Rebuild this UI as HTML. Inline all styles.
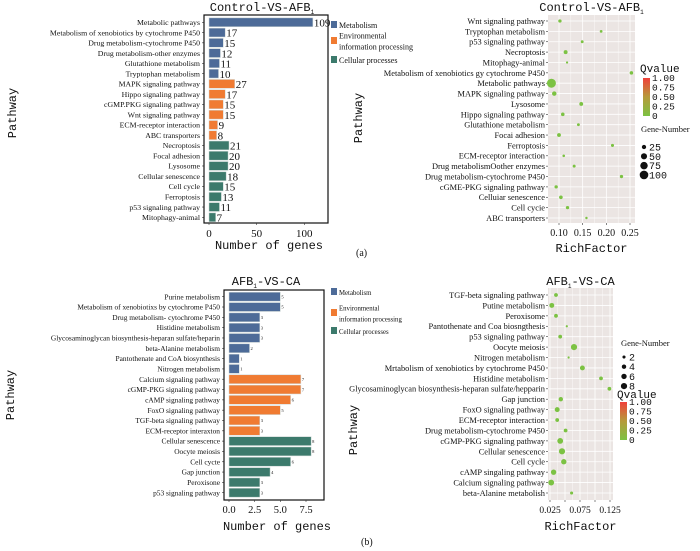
<!DOCTYPE html>
<html><head><meta charset="utf-8"><style>
html,body{margin:0;padding:0;background:#fff;}
svg{display:block;font-family:"Liberation Serif","Noto Serif CJK SC",serif;}
</style></head><body>
<svg id="fig" width="700" height="551" viewBox="0 0 700 551"></svg>
<script>
const NS='http://www.w3.org/2000/svg';
const svg=document.getElementById('fig');
const BLUE='#4d6b98',ORANGE='#f07b32',TEAL='#3c7a6c',GREEN='#7cc243',BG='#ebe5e3';

// Panel A bar data
const aBarCats=['Metabolic pathways','Metabolism of xenobiotics by cytochrome P450','Drug metabolism-cytochrome P450','Drug metabolism-other enzymes','Glutathione metabolism','Tryptophan metabolism','MAPK signaling pathway','Hippo signaling pathway','cGMP.PKG  signaling pathway','Wnt signaling pathway','ECM-receptor interaction','ABC transporters','Necroptosis','Focal adhesion','Lysosome','Cellular senescence','Cell cycle','Ferroptosis','p53 signaling pathway','Mitophagy-animal'];
const aBarVals=[109,17,15,12,11,10,27,17,15,15,9,8,21,20,20,18,15,13,11,7];
const aBarGroups=[0,0,0,0,0,0,1,1,1,1,1,1,2,2,2,2,2,2,2,2];
const aBarTicks=[0,50,100];

// Panel A dot data
const aDotCats=['Wnt signaling pathway','Tryptophan metabolism','p53 signaling pathway','Necroptosis','Mitophagy-animal','Metabolism of xenobiotics gy cytochrome P450','Metabolic pathways','MAPK signaling pathway','Lysosome','Hippo signaling pathway','Glutathione metabolism','Focai adhesion','Ferroptosis','ECM-receptor interaction','Drug metabolismOother enzymes','Drug metabolism-cytochrome P450','cGME-PKG signaling pathway','Celluiar senescence','Cell cycie','ABC transporters'];
const aDotRich=[0.102,0.189,0.149,0.114,0.117,0.253,0.084,0.090,0.147,0.108,0.141,0.100,0.213,0.110,0.132,0.232,0.094,0.104,0.118,0.158];
const aDotGenes=[15,10,11,21,7,17,109,27,20,17,11,20,13,9,12,15,15,18,15,8];
const aDotTicks=[0.10,0.15,0.20,0.25];
const aDotTickLabels=['0.10','0.15','0.20','0.25'];
const aSizeLegend=[25,50,75,100];

// Panel B bar data
const bBarCats=['Purine metabolism','Metabolism of xenobiotixs by cytochrome P450','Drug metabolism- cytochrome P450','Histidine metabolism','Glycosaminoglycan biosynthesis-heparan sulfate/heparin','beta-Alanine metabolism','Pantothenate and CoA biosynthesis','Nitrogen metabolism','Calcium signaling pathway','cGMP-PKG signaling pathway','cAMP signaling pathway','FoxO signaling pathway','TGF-beta signaling pathway','ECM-receptor interaxton','Cellular senescence','Oocyte meiosis','Cell cycte','Gap junction','Peroxisone','p53  signaling pathway'];
const bBarVals=[5,5,3,3,3,2,1,1,7,7,6,5,3,3,8,8,6,4,3,3];
const bBarGroups=[0,0,0,0,0,0,0,0,1,1,1,1,1,1,2,2,2,2,2,2];
const bBarTicks=[0,2.5,5,7.5];
const bBarTickLabels=['0.0','2.5','5.0','7.5'];

// Panel B dot data
const bDotCats=['TGF-beta signaling pathway','Putine metabolism','Peroxisome','Pantothenate and Coa biosngthesis','p53 signaling pathway','Oocyte meiosis','Nitrogen metabolism','Mrtabolism of xenobiotics by cytochrome P450','Histidine metabolism','Glycosaminoglycan biosynthesis-heparan sulfate/hepparin','Gap junction','FoxO signaling pathway','ECM-receptor interaction','Drug metabolism-cytochrome P450','cGMP-PKG signaling pathway','Cellular senescence','Cell cycle','cAMP singaling pathway','Calcium signaling pathway','beta-Alanine metabolish'];
const bDotRich=[0.035,0.028,0.035,0.053,0.042,0.065,0.056,0.079,0.110,0.124,0.043,0.037,0.037,0.051,0.042,0.045,0.048,0.031,0.027,0.061];
const bDotGenes=[3,5,3,1,3,8,1,5,3,3,4,5,3,3,7,8,6,6,7,2];
const bDotTicks=[0.025,0.05,0.075,0.1,0.125];
const bDotTickLabels=['0.025','','0.075','','0.125'];
const bSizeLegend=[2,4,6,8];

const groupColors=[BLUE,ORANGE,TEAL];
const legendLabels=[['Metabolism'],['Environmental','information processing'],['Cellular processes']];

function mk(tag,attrs,parent,text){const e=document.createElementNS(NS,tag);for(const k in attrs)e.setAttribute(k,attrs[k]);if(text!==undefined)e.textContent=text;(parent||svg).appendChild(e);return e;}
function lin(d0,d1,r0,r1){return v=>r0+(v-d0)*(r1-r0)/(d1-d0);}

function barPanel(o){
  const g=mk('g',{});
  
  
  const x=lin(0,o.xref,o.x0,o.x1);
  const n=o.cats.length;
  const y=i=>o.yFirst+i*(o.yLast-o.yFirst)/(n-1);
  const step=(o.yLast-o.yFirst)/(n-1);
  o.cats.forEach((c,i)=>{
    const r=mk('rect',{x:x(0),y:y(i)-step*0.43,width:x(o.vals[i])-x(0),height:step*0.86,fill:groupColors[o.groups[i]],stroke:'#cfd8d6','stroke-width':0.5},g);
    
    
    const t=mk('text',{x:o.bl.l-4,y:y(i)+o.lfs*0.35,'text-anchor':'end','font-size':o.lfs,fill:'#111'},g,c);
    
    
    mk('line',{x1:o.bl.l-2,x2:o.bl.l,y1:y(i),y2:y(i),stroke:'#333','stroke-width':0.6},g);
    const v=mk('text',{x:x(o.vals[i])+1,y:y(i)+o.vfs*0.38,'font-size':o.vfs,fill:'#111'},g,String(o.vals[i]));
    
    
  });
  const f=mk('rect',{x:o.bl.l,y:o.bl.t,width:o.bl.r-o.bl.l,height:o.bl.b-o.bl.t,fill:'none',stroke:'#111','stroke-width':1.2},g);
  
  
  o.ticks.forEach((t,i)=>{
    mk('line',{x1:x(t),x2:x(t),y1:o.bl.b,y2:o.bl.b+2,stroke:'#333','stroke-width':0.6},g);
    const tl=mk('text',{x:x(t),y:o.tickY,'text-anchor':'middle','font-size':o.tfs,fill:'#111'},g,o.tickLabels?o.tickLabels[i]:String(t));
    
    
  });
  const xt=mk('text',{x:(o.bl.l+o.bl.r)/2+3,y:o.xtY,'text-anchor':'middle','font-size':12,fill:'#111','font-family':'Liberation Mono, monospace'},g,'Number of genes');
  
  
  const yt=mk('text',{x:o.ytX,y:o.ytY,'text-anchor':'middle','font-size':12,fill:'#111','font-family':'Liberation Mono, monospace',transform:`rotate(-90 ${o.ytX} ${o.ytY})`},g,'Pathway');
  
  
  const ti=mk('text',{x:o.titleX,y:o.titleY,'text-anchor':'middle','font-size':12,fill:'#111','font-family':'Liberation Mono, monospace'},g);
  
  
  ti.innerHTML=o.title;
  o.legY.forEach((ly,i)=>{
    const s=mk('rect',{x:o.legX,y:ly-4,width:6,height:7,fill:groupColors[i]},g);
    
    
    legendLabels[i].forEach((ln,j)=>{
      const t=mk('text',{x:o.legX+8,y:ly+3+j*o.legLH+(legendLabels[i].length>1?-o.legLH/2:0),'font-size':o.legFs,fill:'#111'},g,ln);
      
      
    });
  });
}

function dotPanel(o){
  const g=mk('g',{});
  
  
  const x=lin(o.xd0,o.xd1,o.xr0,o.xr1);
  const n=o.cats.length;
  const step=(o.yLast-o.yFirst)/(n-1);
  const y=i=>o.yFirst+i*step;
  const bg=mk('rect',{x:o.bl.l,y:o.bl.t,width:o.bl.r-o.bl.l,height:o.bl.b-o.bl.t,fill:BG},g);
  
  
  o.ticks.forEach((t,i)=>{
    mk('line',{x1:x(t),x2:x(t),y1:o.bl.t,y2:o.bl.b,stroke:'#fff','stroke-width':0.8},g);
    if(i<o.ticks.length-1){const m=(t+o.ticks[i+1])/2;mk('line',{x1:x(m),x2:x(m),y1:o.bl.t,y2:o.bl.b,stroke:'#fff','stroke-width':0.4},g);}
    mk('line',{x1:x(t),x2:x(t),y1:o.bl.b,y2:o.bl.b+2,stroke:'#333','stroke-width':0.6},g);
    const tl=mk('text',{x:x(t),y:o.tickY,'text-anchor':'middle','font-size':o.tfs,fill:'#111'},g,o.tickLabels[i]);
    
    
  });
  o.cats.forEach((c,i)=>{
    mk('line',{x1:o.bl.l,x2:o.bl.r,y1:y(i),y2:y(i),stroke:'#fff','stroke-width':0.8},g);
    mk('line',{x1:o.bl.l-2,x2:o.bl.l,y1:y(i),y2:y(i),stroke:'#333','stroke-width':0.6},g);
    const t=mk('text',{x:o.bl.l-3,y:y(i)+o.lfs*0.35,'text-anchor':'end','font-size':o.lfs,fill:'#111'},g,c);
    
    
  });
  o.cats.forEach((c,i)=>{
    const d=mk('circle',{cx:x(o.rich[i]),cy:y(i),r:o.rad(o.genes[i]),fill:GREEN},g);
    
    
  });
  const xt=mk('text',{x:(o.bl.l+o.bl.r)/2,y:o.xtY,'text-anchor':'middle','font-size':12,fill:'#111','font-family':'Liberation Mono, monospace'},g,'RichFactor');
  
  
  const yt=mk('text',{x:o.ytX,y:o.ytY,'text-anchor':'middle','font-size':12,fill:'#111','font-family':'Liberation Mono, monospace',transform:`rotate(-90 ${o.ytX} ${o.ytY})`},g,'Pathway');
  
  
  const ti=mk('text',{x:(o.bl.l+o.bl.r)/2,y:o.titleY,'text-anchor':'middle','font-size':12,fill:'#111','font-family':'Liberation Mono, monospace'},g);
  
  
  ti.innerHTML=o.title;
  const gid='grad'+o.name;
  const defs=mk('defs',{},g);
  const lg=mk('linearGradient',{id:gid,x1:0,y1:1,x2:0,y2:0},defs);
  mk('stop',{offset:'0','stop-color':'#7cc243'},lg);
  mk('stop',{offset:'0.5','stop-color':'#b59a3a'},lg);
  mk('stop',{offset:'1','stop-color':'#f0403a'},lg);
  const qt=mk('text',{x:o.q.x-3,y:o.q.ty,'font-size':11,fill:'#111','font-family':'Liberation Mono, monospace'},g,'Qvalue');
  
  
  const qb=mk('rect',{x:o.q.x,y:o.q.y0,width:7,height:o.q.y1-o.q.y0,fill:`url(#${gid})`},g);
  
  
  ['1.00','0.75','0.50','0.25','0'].forEach((l,i)=>{
    const t=mk('text',{x:o.q.x+9,y:o.q.y0+i*(o.q.y1-o.q.y0)/4+3,'font-size':9.5,fill:'#111','font-family':'Liberation Mono, monospace'},g,l);
    
    
  });
  const st=mk('text',{x:o.s.x-3,y:o.s.ty,'font-size':8.5,fill:'#111'},g,'Gene-Number');
  
  
  o.sizes.forEach((s,i)=>{
    const cy=o.s.y0+i*o.s.dy;
    mk('circle',{cx:o.s.x,cy:cy,r:o.rad(s),fill:'#111'},g);
    const t=mk('text',{x:o.s.x+5,y:cy+3.5,'font-size':10,fill:'#111','font-family':'Liberation Mono, monospace'},g,String(s));
    
    
  });
}

barPanel({name:'bar-chart-control-vs-afb1',cats:aBarCats,vals:aBarVals,groups:aBarGroups,xref:100,x0:209,x1:304.3,
  yFirst:22.3,yLast:217.3,bl:{l:204,r:328,t:15,b:223},lfs:7.8,vfs:11,ticks:aBarTicks,tfs:11,tickY:237,xtY:249,ytX:16,ytY:113,
  titleX:262,titleY:11,title:'Control-VS-AFB<tspan font-size="6" dy="3">1</tspan>',legX:331,legY:[25,41,60],legFs:8,legLH:11});

dotPanel({name:'dot-chart-control-vs-afb1',cats:aDotCats,rich:aDotRich,genes:aDotGenes,xd0:0.10,xd1:0.25,xr0:559,xr1:630,
  yFirst:21,yLast:218,bl:{l:548,r:635,t:15,b:223},lfs:8.4,ticks:aDotTicks,tickLabels:aDotTickLabels,tfs:10,tickY:236,xtY:252,ytX:362,ytY:118,
  titleY:11,title:'Control-VS-AFB<tspan font-size="6" dy="3">1</tspan>',rad:v=>Math.sqrt(v)*0.43,
  q:{x:643,ty:72,y0:78,y1:116},s:{x:644,ty:132,y0:147,dy:9.3},sizes:aSizeLegend});

barPanel({name:'bar-chart-afb1-vs-ca',cats:bBarCats,vals:bBarVals,groups:bBarGroups,xref:7.5,x0:229,x1:306,
  yFirst:296.7,yLast:492.7,bl:{l:224,r:324,t:290,b:500},lfs:7.4,vfs:4.5,ticks:bBarTicks,tickLabels:bBarTickLabels,tfs:10.5,tickY:513,xtY:530,ytX:14,ytY:395,
  titleX:266,titleY:285,title:'AFB<tspan font-size="6" dy="3">1</tspan><tspan dy="-3">-VS-CA</tspan>',legX:331,legY:[292,313,331],legFs:6.8,legLH:11});

dotPanel({name:'dot-chart-afb1-vs-ca',cats:bDotCats,rich:bDotRich,genes:bDotGenes,xd0:0.025,xd1:0.125,xr0:550,xr1:610,
  yFirst:295,yLast:493,bl:{l:548,r:613,t:288,b:500},lfs:8.4,ticks:bDotTicks,tickLabels:bDotTickLabels,tfs:9.5,tickY:513,xtY:530,ytX:357,ytY:430,
  titleY:285,title:'AFB<tspan font-size="6" dy="3">1</tspan><tspan dy="-3">-VS-CA</tspan>',rad:v=>Math.sqrt(v)*1.1,
  q:{x:620,ty:398,y0:402,y1:440},s:{x:624,ty:346,y0:357,dy:9.7},sizes:bSizeLegend});

const la=mk('text',{x:356,y:256,'font-size':10,fill:'#111'},svg,'(a)');


const lb=mk('text',{x:361,y:545,'font-size':10,fill:'#111'},svg,'(b)');


</script>
</body></html>
